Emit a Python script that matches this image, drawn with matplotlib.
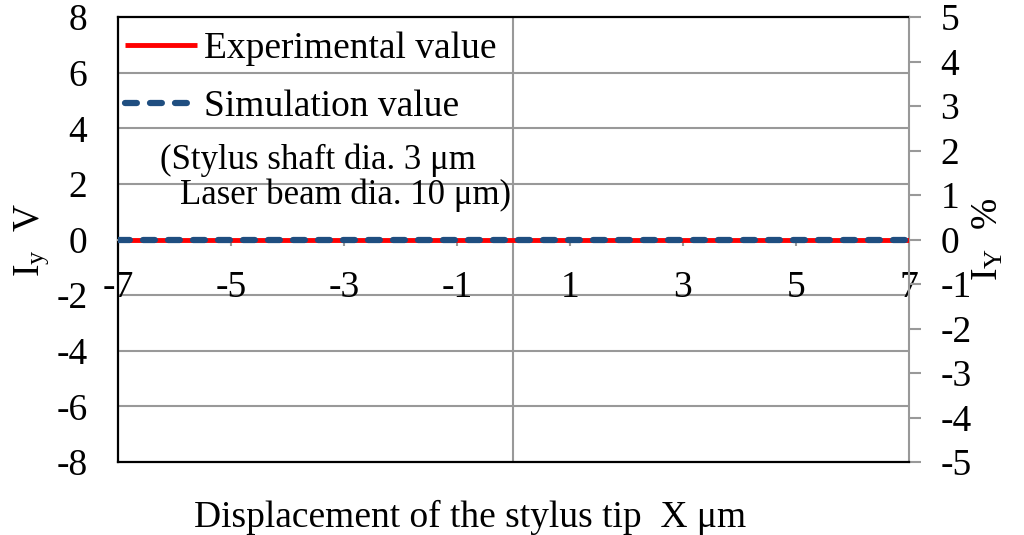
import numpy as np
import matplotlib
matplotlib.use("Agg")
import matplotlib.pyplot as plt

plt.rcParams['font.family'] = ['Liberation Serif', 'DejaVu Serif']
plt.rcParams['mathtext.fontset'] = 'custom'
plt.rcParams['mathtext.rm'] = 'Liberation Serif'
plt.rcParams['mathtext.it'] = 'Liberation Serif:italic'
plt.rcParams['axes.unicode_minus'] = False

# data: both series lie flat on zero
x_um = [-7, -6, -5, -4, -3, -2, -1, 0, 1, 2, 3, 4, 5, 6, 7]
experimental = [0, 0, 0, 0, 0, 0, 0, 0, 0, 0, 0, 0, 0, 0, 0]
simulation = [0, 0, 0, 0, 0, 0, 0, 0, 0, 0, 0, 0, 0, 0, 0]
x_ticks = [-7, -5, -3, -1, 1, 3, 5, 7]
left_ticks = [-8, -6, -4, -2, 0, 2, 4, 6, 8]
right_ticks = [-5, -4, -3, -2, -1, 0, 1, 2, 3, 4, 5]

FS = 27
GRAY = '#999999'

fig = plt.figure(figsize=(10.24, 5.35), dpi=100)
ax = fig.add_axes([0.1152, 0.1364, 0.7725, 0.8318])

ax.set_xlim(-7, 7)
ax.set_ylim(-8, 8)

# grid
for yv in left_ticks[1:-1]:
    ax.axhline(yv, color=GRAY, lw=1.5, zorder=0)
ax.axvline(0, color=GRAY, lw=1.5, zorder=0)

ax.plot(x_um, experimental, color='#ff0000', lw=3.5, solid_capstyle='butt',
        label='Experimental value', zorder=3)
ax.plot(x_um, simulation, color='#1f4e80', lw=4.5, dashes=(1.9, 2.1),
        dash_capstyle='round', label='Simulation value', zorder=4)

# spines: x axis crosses at zero, frame drawn by the twin
ax.spines['bottom'].set_position(('data', 0))
ax.spines['bottom'].set_color(GRAY)
ax.spines['bottom'].set_linewidth(1.5)
for s in ['left', 'top']:
    ax.spines[s].set_color('black')
    ax.spines[s].set_linewidth(1.6)
ax.spines['right'].set_color(GRAY)
ax.spines['right'].set_linewidth(1.5)

ax.set_yticks(left_ticks)
ax.tick_params(axis='y', length=0, pad=22, labelsize=FS)
ax.set_xticks(x_ticks)
ax.tick_params(axis='x', direction='out', length=4.5, width=1.5,
               color=GRAY, pad=18, labelsize=FS)
ax.set_ylabel(r'I$_{\mathrm{y}}$  V', fontsize=FS, labelpad=4)

# right axis
ax2 = ax.twinx()
ax2.set_ylim(-5, 5)
ax2.set_yticks(right_ticks)
ax2.tick_params(axis='y', direction='out', length=8.5, width=1.5,
                color=GRAY, pad=14, labelsize=FS)
for s in ['left', 'top', 'right']:
    ax2.spines[s].set_visible(False)
ax2.spines['bottom'].set_color('black')
ax2.spines['bottom'].set_linewidth(1.6)
ax2.set_ylabel(r'I$_{\mathrm{Y}}$  %', fontsize=FS, labelpad=0)

leg = ax.legend(loc='upper left', bbox_to_anchor=(0.0, 0.984),
                frameon=False, fontsize=FS,
                handlelength=1.9, handletextpad=0.2, labelspacing=0.62,
                borderaxespad=0.1, borderpad=0.1)

ax.text(-6.26, 2.84, '(Stylus shaft dia. 3 μm', fontsize=25,
        ha='left', va='center')
ax.text(-5.9, 1.58, 'Laser beam dia. 10 μm)', fontsize=25,
        ha='left', va='center')

fig.text(470 / 1024, 1 - 517 / 535, 'Displacement of the stylus tip  X μm',
         fontsize=FS, ha='center', va='center')

fig.savefig('out.png', dpi=100)
